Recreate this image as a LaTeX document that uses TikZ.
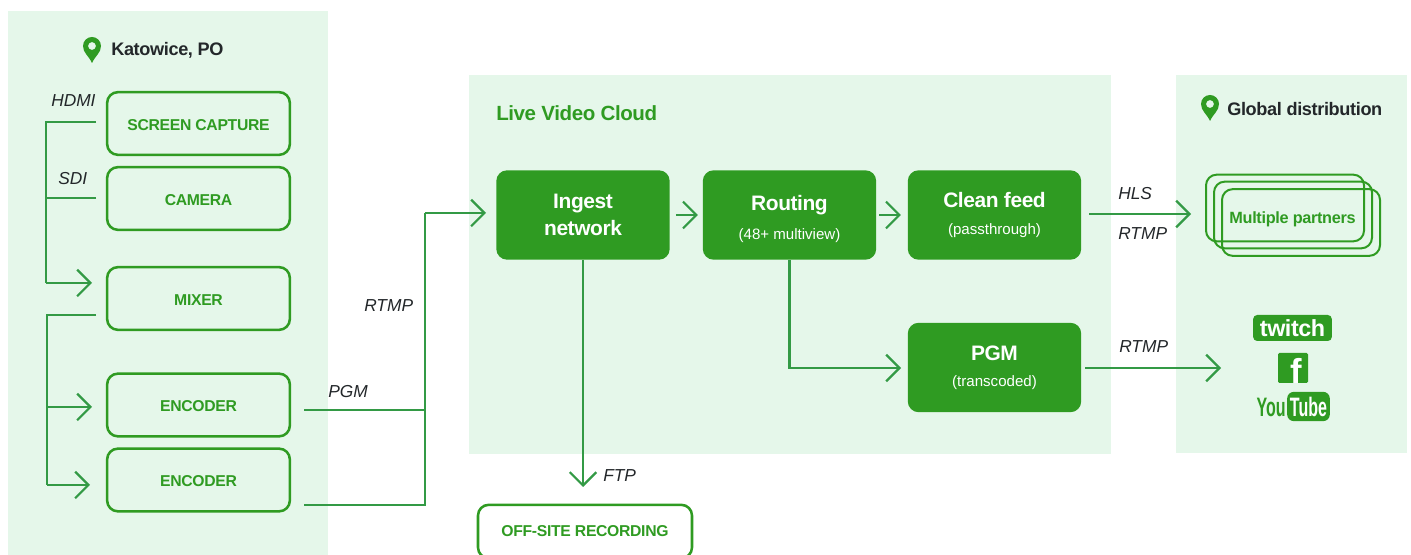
\documentclass[tikz,border=0pt]{standalone}
\usepackage{fontspec}
\setmainfont{Liberation Sans}[BoldFeatures={LetterSpace=-2}]
\newfontfamily\narrowfont[FakeStretch=0.6]{Liberation Sans}
\usetikzlibrary{arrows.meta}
\definecolor{panelgreen}{HTML}{E5F7EA}
\definecolor{boxgreen}{HTML}{2F9B22}
\definecolor{wiregreen}{HTML}{339A45}
\definecolor{headdark}{HTML}{23272A}
\tikzset{
  panel/.style={fill=panelgreen},
  wire/.style={draw=wiregreen,line width=1.6pt},
  arrow/.style={wire,-{Straight Barb[length=10pt,width=20pt,line width=1.6pt]}},
  outbox/.style={draw=boxgreen,line width=1.9pt,rounded corners=8pt,minimum width=137pt,minimum height=47pt,inner sep=0pt,text=boxgreen,text height=10pt,text depth=0pt,font=\fontsize{11.8}{14}\selectfont\bfseries},
  cloudbox/.style={fill=boxgreen,rounded corners=8pt,minimum width=130pt,minimum height=67pt,inner sep=0pt,text=white,align=center},
  stackbox/.style={draw=boxgreen,line width=1.5pt,rounded corners=8pt,minimum width=118.5pt,minimum height=50pt,inner sep=0pt},
  medium/.style={font=\fontsize{13}{15}\selectfont\itshape,text=headdark,inner sep=0pt,anchor=west},
  heading/.style={font=\fontsize{13.6}{16}\selectfont\bfseries,text=headdark,inner sep=0pt,anchor=west},
  mappin/.pic={
    \fill[boxgreen,even odd rule] (0,13) .. controls (-3,6) and (-9,3) .. (-9,-4) arc (180:360:9) .. controls (9,3) and (3,6) .. (0,13) -- cycle
      (4,-4) arc (0:360:4);
  }
}
\newcommand{\boxtitle}[1]{{\fontsize{15.7}{19}\selectfont\bfseries #1}}
\newcommand{\boxnote}[1]{{\fontsize{11.3}{14}\selectfont #1}}
\begin{document}
\begin{tikzpicture}[x=0.75pt,y=-0.75pt]
\useasboundingbox (0,0) rectangle (1411,555);

% background panels
\fill[panel] (8,11) rectangle (328,555);
\fill[panel] (469,75) rectangle (1111,454);
\fill[panel] (1176,75) rectangle (1407,453);

\pic at (92,50) {mappin};
\pic at (1210,108) {mappin};
\node[heading] (katowice) at (111,50) {Katowice, PO};
\node[heading] (globaldist) at (1227,109) {Global distribution};
\node[heading,text=boxgreen,font=\fontsize{15.4}{18}\selectfont\bfseries] (livecloud) at (496,113) {Live Video Cloud};

% venue
\node[outbox] (capture) at (198.5,123.5) {SCREEN CAPTURE};
\node[outbox] (camera) at (198.5,198.5) {CAMERA};
\node[outbox] (mixer) at (198.5,298.5) {MIXER};
\node[outbox] (encodera) at (198.5,405) {ENCODER};
\node[outbox] (encoderb) at (198.5,480) {ENCODER};

% cloud
\node[cloudbox] (ingest) at (583,215) {\boxtitle{Ingest}\\[4pt]\boxtitle{network}};
\node[cloudbox] (routing) at (789.5,215) {\rule{0pt}{17pt}\boxtitle{Routing}\\[10pt]\boxnote{(48+ multiview)}};
\node[cloudbox] (clean) at (994.5,215) {\boxtitle{Clean feed}\\[8pt]\boxnote{(passthrough)}};
\node[cloudbox] (pgm) at (994.5,367.5) {\boxtitle{PGM}\\[7.5pt]\boxnote{(transcoded)}};

\node[outbox,minimum width=160.5pt,minimum height=40pt,text depth=2.5pt] (offsite) at (585,531.5) {OFF-SITE RECORDING};

% partners
\node[stackbox] (partnersa) at (1285,208) {};
\node[stackbox] (partnersb) at (1293,215) {};
\node[stackbox] (partnersc) at (1301,222.5) {};
\node[inner sep=0pt,text=boxgreen,font=\fontsize{12.2}{15}\selectfont\bfseries] (partners) at (1292.5,219) {Multiple partners};

% logos
\node[fill=boxgreen,rounded corners=3pt,minimum width=59pt,minimum height=19.5pt,inner sep=0pt,text=white,font=\fontsize{17.5}{20}\selectfont\bfseries] (twitch) at (1292.5,328) {twitch};
\node[fill=boxgreen,rounded corners=1pt,minimum size=22.5pt,inner sep=0pt] (facebook) at (1293,368) {};
\node[inner sep=0pt,text=white,font=\fontsize{26}{26}\selectfont\bfseries] (fbglyph) at (1296,371) {f};
\node[inner sep=0pt,text=boxgreen,anchor=east,font=\fontsize{20}{24}\narrowfont\bfseries] (youyt) at (1286,407) {You};
\node[fill=boxgreen,rounded corners=5pt,minimum width=32pt,minimum height=22pt,inner sep=0pt,text=white,font=\fontsize{20}{24}\narrowfont\bfseries] (tubeyt) at (1308.5,406.5) {Tube};

% free ends of the connectors
\coordinate (hdmiout) at (96,122);
\coordinate (sdiout) at (96,198);
\coordinate (sdibus) at (46,198);
\coordinate (busa) at (46,283);
\coordinate (mixerin) at (92,283);
\coordinate (mixerout) at (96,315);
\coordinate (busb) at (47,485);
\coordinate (busbmid) at (47,407);
\coordinate (encaein) at (92,407);
\coordinate (encbein) at (90,485);
\coordinate (encaout) at (304,410);
\coordinate (encbout) at (304,505);
\coordinate (merge) at (425,410);
\coordinate (mergelow) at (425,505);
\coordinate (mergetop) at (425,213);
\coordinate (ingestin) at (486,213);
\coordinate (ftpend) at (583,487);
\coordinate (pgmin) at (901,368);
\coordinate (cleanout) at (1089,214);
\coordinate (partnersin) at (1191,214);
\coordinate (pgmout) at (1085,368);
\coordinate (logosin) at (1221,368);

\draw[wire] (hdmiout) -| (busa);
\draw[wire] (sdiout) -- (sdibus);
\draw[arrow] (busa) -- (mixerin);
\draw[wire] (mixerout) -| (busb);
\draw[arrow] (busbmid) -- (encaein);
\draw[arrow] (busb) -- (encbein);
\draw[wire] (encaout) -- (merge);
\draw[wire] (encbout) -- (mergelow) -- (mergetop);
\draw[arrow] (mergetop) -- (ingestin);
\draw[arrow,shorten <=4.5pt,shorten >=3.5pt] (ingest.east) -- (routing.west);
\draw[arrow,shorten <=2pt,shorten >=5pt] (routing.east) -- (clean.west);
\draw[arrow] (ingest.south) -- (ftpend);
\draw[arrow] (routing.south) |- (pgmin);
\draw[arrow] (cleanout) -- (partnersin);
\draw[arrow] (pgmout) -- (logosin);

\node[medium] (lblhdmi) at (51,101) {HDMI};
\node[medium] (lblsdi) at (58,179) {SDI};
\node[medium] (lblpgm) at (328,392) {PGM};
\node[medium] (lblrtmpa) at (364,306) {RTMP};
\node[medium] (lblhls) at (1118,194) {HLS};
\node[medium] (lblrtmpb) at (1118,234) {RTMP};
\node[medium] (lblrtmpc) at (1119,347) {RTMP};
\node[medium] (lblftp) at (603,476) {FTP};
\end{tikzpicture}
\end{document}
